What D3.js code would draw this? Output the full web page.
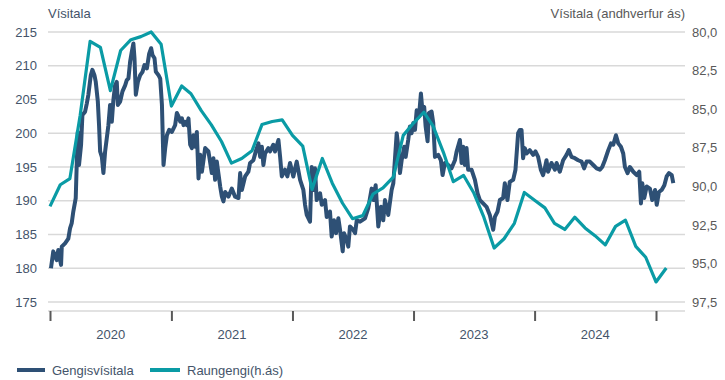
<!DOCTYPE html>
<html><head><meta charset="utf-8">
<script src="https://cdn.jsdelivr.net/npm/d3@7"></script>
<style>
body{margin:0;background:#fff}
svg{display:block}
text{font-family:"Liberation Sans",Arial,sans-serif}
</style>
</head><body>
<svg id="c" width="725" height="380"></svg>
<script>
// ---------- DATA ----------
const yearLabels = ["2020","2021","2022","2023","2024"];
const yearTickLabels = ["2020-01","2021-01","2022-01","2023-01","2024-01","2025-01"];
const leftTicks = [175,180,185,190,195,200,205,210,215];
const rightTicks = [80,82.5,85,87.5,90,92.5,95,97.5];
const leftTitle = "Vísitala";
const rightTitle = "Vísitala (andhverfur ás)";
const seriesNames = ["Gengisvísitala","Raungengi(h.ás)"];

// Gengisvísitala: dates as decimal years
const gengisDates = [
2020.008,2020.027,2020.055,2020.068,2020.091,2020.097,2020.124,2020.151,2020.165,2020.179,
2020.192,2020.212,2020.220,2020.229,2020.239,2020.256,2020.267,2020.289,2020.303,2020.316,
2020.336,2020.349,2020.366,2020.377,2020.394,2020.404,2020.413,2020.427,2020.440,2020.454,
2020.468,2020.481,2020.495,2020.509,2020.522,2020.536,2020.550,2020.559,2020.578,2020.597,
2020.619,2020.633,2020.646,2020.660,2020.674,2020.687,2020.696,2020.707,2020.724,2020.743,
2020.762,2020.778,2020.798,2020.817,2020.833,2020.844,2020.861,2020.872,2020.894,2020.908,
2020.922,2020.935,2020.949,2020.963,2020.982,2021.004,2021.031,2021.045,2021.059,2021.073,
2021.087,2021.100,2021.114,2021.128,2021.141,2021.155,2021.169,2021.182,2021.196,2021.210,
2021.224,2021.238,2021.252,2021.279,2021.306,2021.334,2021.347,2021.361,2021.375,2021.403,
2021.417,2021.430,2021.444,2021.471,2021.499,2021.526,2021.554,2021.568,2021.582,2021.609,
2021.636,2021.650,2021.677,2021.700,2021.719,2021.733,2021.747,2021.760,2021.774,2021.801,
2021.815,2021.842,2021.856,2021.884,2021.898,2021.912,2021.939,2021.958,2021.980,2022.007,
2022.035,2022.063,2022.090,2022.104,2022.118,2022.145,2022.159,2022.172,2022.186,2022.200,
2022.228,2022.242,2022.269,2022.283,2022.310,2022.324,2022.343,2022.360,2022.379,2022.393,
2022.415,2022.426,2022.448,2022.461,2022.475,2022.502,2022.517,2022.531,2022.558,2022.599,
2022.626,2022.654,2022.668,2022.687,2022.709,2022.731,2022.750,2022.764,2022.791,2022.819,
2022.833,2022.861,2022.874,2022.888,2022.902,2022.923,2022.935,2022.956,2022.970,2022.984,
2022.998,2023.012,2023.026,2023.045,2023.061,2023.075,2023.088,2023.100,2023.116,2023.127,
2023.149,2023.163,2023.177,2023.204,2023.226,2023.240,2023.259,2023.286,2023.314,2023.342,
2023.356,2023.383,2023.397,2023.410,2023.424,2023.438,2023.451,2023.479,2023.507,2023.529,
2023.548,2023.575,2023.603,2023.630,2023.658,2023.672,2023.694,2023.713,2023.740,2023.754,
2023.776,2023.795,2023.823,2023.842,2023.864,2023.878,2023.892,2023.905,2023.919,2023.933,
2023.960,2023.988,2024.007,2024.029,2024.051,2024.070,2024.084,2024.098,2024.111,2024.139,
2024.167,2024.181,2024.208,2024.235,2024.263,2024.282,2024.304,2024.332,2024.359,2024.387,
2024.408,2024.428,2024.455,2024.483,2024.511,2024.538,2024.557,2024.579,2024.607,2024.629,
2024.648,2024.670,2024.689,2024.711,2024.730,2024.744,2024.766,2024.785,2024.813,2024.841,
2024.862,2024.876,2024.887,2024.903,2024.923,2024.950,2024.969,2024.992,2025.006,2025.025,
2025.047,2025.069,2025.088,2025.107,2025.130,2025.143
];
const gengisValues = [
180.0,182.5,181.2,182.7,180.5,183.2,183.7,184.4,185.9,186.7,
188.4,190.4,195.3,200.2,195.3,198.3,202.7,203.2,204.4,205.7,
208.6,209.4,208.6,207.6,204.7,201.2,197.3,196.5,194.1,197.3,
199.3,201.2,204.2,201.7,204.9,207.1,207.6,204.2,204.7,206.2,
207.1,207.9,208.1,210.6,212.1,213.3,211.1,205.7,207.6,208.6,
209.1,210.1,209.6,211.8,212.6,211.6,211.1,209.1,208.6,208.1,
204.2,195.3,197.8,199.7,200.5,200.2,201.2,203.0,202.5,201.7,
202.2,201.2,201.7,201.2,202.2,198.3,197.8,199.7,198.0,200.2,
193.3,196.8,194.3,197.8,197.3,194.1,196.3,193.1,195.8,192.1,
190.6,189.9,191.3,190.6,191.8,190.6,190.4,194.1,191.6,193.6,
194.3,195.6,196.0,197.5,198.5,196.5,198.0,195.3,197.0,197.8,
197.3,198.3,197.3,199.0,196.5,193.6,194.6,193.6,195.6,193.6,
195.8,193.1,191.6,189.4,187.9,186.9,195.0,191.6,194.8,190.1,
191.1,189.4,190.1,187.6,188.4,184.7,187.1,185.2,187.4,185.7,
182.5,185.2,184.2,183.2,186.2,185.7,185.2,187.1,186.9,187.4,
188.9,191.8,190.1,192.3,186.2,189.1,187.1,190.1,187.9,191.6,
192.6,200.0,198.0,194.1,196.0,198.0,196.5,199.0,201.0,200.0,
201.5,200.5,203.4,202.5,205.9,203.0,203.9,201.0,198.8,203.0,
203.2,201.5,196.5,196.8,196.0,193.8,195.6,195.3,194.8,196.0,
197.3,199.0,195.6,198.0,195.3,197.8,194.6,194.6,193.1,191.1,
190.1,189.6,189.1,187.9,185.7,187.6,188.4,190.1,190.4,192.6,
190.1,192.8,193.1,194.6,200.0,200.5,200.5,196.3,197.8,197.0,
197.5,196.8,197.3,196.5,194.6,193.8,194.8,196.0,194.3,195.6,
194.6,195.6,194.3,196.0,196.8,197.5,196.5,196.3,196.0,195.8,
194.8,195.8,195.8,195.3,194.8,194.6,195.0,196.0,197.5,198.5,
198.3,199.7,198.5,198.0,197.0,195.0,194.1,195.0,194.3,193.8,
194.3,189.6,192.6,190.4,192.1,191.8,190.1,191.6,189.4,191.3,
191.6,192.3,193.6,194.1,193.8,192.6
];

// Raungengi: monthly
const raungengiMonths = [
"2020-01","2020-02","2020-03","2020-04","2020-05","2020-06","2020-07","2020-08","2020-09","2020-10","2020-11","2020-12",
"2021-01","2021-02","2021-03","2021-04","2021-05","2021-06","2021-07","2021-08","2021-09","2021-10","2021-11","2021-12",
"2022-01","2022-02","2022-03","2022-04","2022-05","2022-06","2022-07","2022-08","2022-09","2022-10","2022-11","2022-12",
"2023-01","2023-02","2023-03","2023-04","2023-05","2023-06","2023-07","2023-08","2023-09","2023-10","2023-11","2023-12",
"2024-01","2024-02","2024-03","2024-04","2024-05","2024-06","2024-07","2024-08","2024-09","2024-10","2024-11","2024-12",
"2025-01","2025-02"
];
const raungengiValues = [
91.3,89.9,89.5,85.4,80.6,81.0,83.8,81.2,80.5,80.3,80.0,80.8,
84.8,83.5,84.0,85.1,86.0,87.1,88.5,88.2,87.7,86.0,85.8,85.7,
86.7,87.4,90.2,88.2,89.8,91.1,92.1,91.9,90.5,90.1,89.4,86.7,
85.9,85.2,86.1,87.8,89.7,89.3,90.4,92.0,94.0,93.4,92.4,90.4,
90.9,91.4,92.4,92.8,92.0,92.7,93.2,93.8,92.6,92.2,93.9,94.6,
96.2,95.3
];

// ---------- HELPERS ----------
function fromDecYear(t){
  const y = Math.floor(t);
  const s = Date.UTC(y,0,1), e = Date.UTC(y+1,0,1);
  return new Date(s + (t - y) * (e - s));
}
const parseMonth = d3.utcParse("%Y-%m");

// ---------- LAYOUT ----------
const svg = d3.select("#c");
const plotL = 48, plotR = 685, axisY = 311;
const blueGray = "#44546A", gray = "#595959", gridC = "#d9d9d9";
const navy = "#2E5075", teal = "#0A9BA5";

const x = d3.scaleUtc()
  .domain([parseMonth("2020-01"), parseMonth("2025-01")])
  .range([50, 656]);
const yL = d3.scaleLinear().domain([175, 215]).range([302, 32]);
const yR = d3.scaleLinear().domain([97.5, 80]).range([302, 32]);

// gridlines
svg.append("g").selectAll("line").data(leftTicks).join("line")
  .attr("x1", plotL).attr("x2", plotR)
  .attr("y1", d => yL(d)).attr("y2", d => yL(d))
  .attr("stroke", gridC).attr("stroke-width", 1.3);

// bottom axis line
svg.append("line").attr("x1", plotL).attr("x2", plotR)
  .attr("y1", axisY).attr("y2", axisY)
  .attr("stroke", gridC).attr("stroke-width", 1.3);

// x axis ticks
const xAxis = d3.axisBottom(x)
  .tickValues(yearTickLabels.map(parseMonth))
  .tickSize(10).tickFormat("");
const gx = svg.append("g").attr("transform", `translate(0,${axisY})`).call(xAxis);
gx.select(".domain").remove();
gx.selectAll(".tick line").attr("stroke", gray).attr("stroke-width", 2);

// year labels centered between ticks
svg.append("g").selectAll("text").data(yearLabels).join("text")
  .attr("x", d => (x(parseMonth(d + "-01")) + x(parseMonth((+d + 1) + "-01"))) / 2)
  .attr("y", 339)
  .attr("text-anchor", "middle")
  .attr("font-size", 13).attr("fill", blueGray)
  .text(d => d);

// left axis labels
const yAxisL = d3.axisLeft(yL).tickValues(leftTicks).tickSize(0).tickPadding(0);
const gl = svg.append("g").attr("transform", "translate(37,0)").call(yAxisL);
gl.select(".domain").remove();
gl.selectAll("text").attr("font-size", 13).attr("fill", blueGray)
  .attr("font-family", '"Liberation Sans",Arial,sans-serif');

// right axis labels
const fmtR = v => d3.format(".1f")(v).replace(".", ",");
const yAxisR = d3.axisRight(yR).tickValues(rightTicks).tickSize(0).tickPadding(0).tickFormat(fmtR);
const gr = svg.append("g").attr("transform", "translate(692,0)").call(yAxisR);
gr.select(".domain").remove();
gr.selectAll("text").attr("font-size", 13).attr("fill", gray)
  .attr("font-family", '"Liberation Sans",Arial,sans-serif');

// titles
svg.append("text").attr("x", 48).attr("y", 18)
  .attr("font-size", 13).attr("fill", blueGray).text(leftTitle);
svg.append("text").attr("x", 685).attr("y", 18).attr("text-anchor", "end")
  .attr("font-size", 13).attr("fill", gray).text(rightTitle);

// series
const gengis = gengisDates.map((t, i) => ({ date: fromDecYear(t), v: gengisValues[i] }));
const raun = raungengiMonths.map((m, i) => ({ date: parseMonth(m), v: raungengiValues[i] }));

svg.append("path").datum(gengis)
  .attr("fill", "none").attr("stroke", navy).attr("stroke-width", 4)
  .attr("stroke-linejoin", "round")
  .attr("d", d3.line().x(d => x(d.date)).y(d => yL(d.v)));

svg.append("path").datum(raun)
  .attr("fill", "none").attr("stroke", teal).attr("stroke-width", 3.2)
  .attr("stroke-linejoin", "round")
  .attr("d", d3.line().x(d => x(d.date)).y(d => yR(d.v)));

// legend
const legendItems = [
  { name: seriesNames[0], color: navy, x1: 17, x2: 45, tx: 52 },
  { name: seriesNames[1], color: teal, x1: 150, x2: 180, tx: 187 }
];
const lg = svg.append("g");
legendItems.forEach(it => {
  lg.append("line").attr("x1", it.x1).attr("x2", it.x2).attr("y1", 370).attr("y2", 370)
    .attr("stroke", it.color).attr("stroke-width", 4);
  lg.append("text").attr("x", it.tx).attr("y", 374.5)
    .attr("font-size", 13).attr("fill", blueGray).text(it.name);
});
</script>
</body></html>
